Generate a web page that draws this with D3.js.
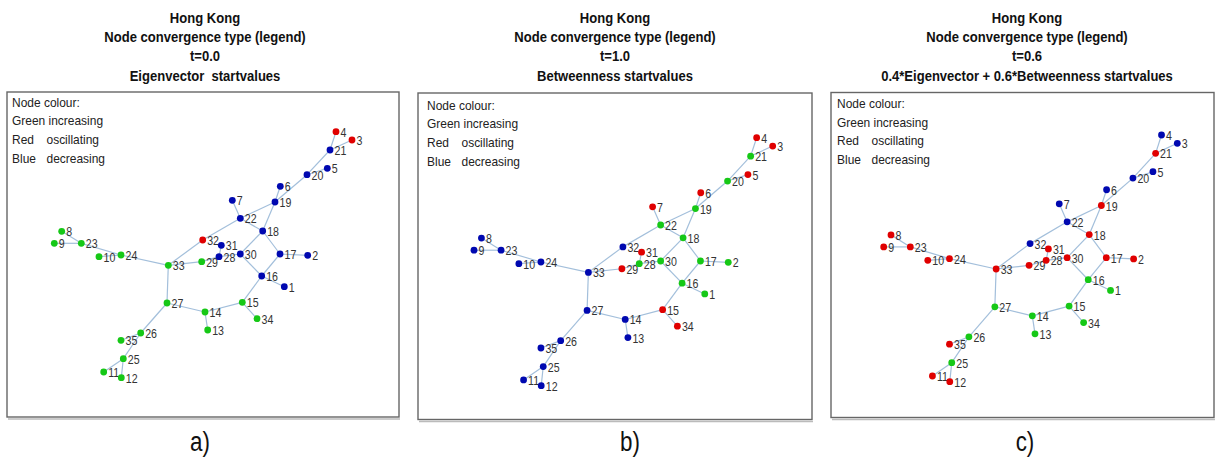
<!DOCTYPE html>
<html>
<head>
<meta charset="utf-8">
<script src="https://cdn.jsdelivr.net/npm/d3@7"></script>
<style>
  html, body { margin: 0; padding: 0; background: #fff; }
  svg { display: block; }
  text { font-family: "Liberation Sans", Arial, sans-serif; white-space: pre; }
</style>
</head>
<body>
<svg id="chart" width="1218" height="463"></svg>
<script>
// Node ids and their layout coordinates (same layout in every panel)
const nodeIds = [1,2,3,4,5,6,7,8,9,10,11,12,13,14,15,16,17,18,19,20,21,22,23,24,25,26,27,28,29,30,31,32,33,34,35];
const layoutX = [284.3,307.7,352,336,327.3,280.3,232.3,61.7,54.3,99,103.7,121.3,207.7,205,242.3,261.7,280,262.7,275,307,330,240.3,81.3,121,123.3,140.7,167,219,201.7,240.3,221.3,202.7,168.3,257,121];
const layoutY = [286.7,255.3,140,131.7,168.3,186.3,200.3,231.3,243.3,256.7,372,377.7,330,312,302.3,276,254,231,202,174.7,150,218.3,243.3,255,358.7,333,303,256.7,261.7,254,245.3,240,265.3,318.7,340.3];

// Network links (pairs of node ids)
const links = [[4,21],[3,21],[21,20],[5,20],[20,19],[6,19],[19,22],[19,18],[7,22],[22,18],[22,32],[32,33],
  [31,28],[28,30],[29,28],[33,29],[30,18],[30,16],[18,17],[17,2],[17,16],[16,1],[16,15],[15,34],[15,14],
  [14,13],[14,27],[27,33],[27,26],[26,25],[35,26],[25,11],[25,12],[8,23],[9,23],[23,24],[10,24],[24,33]];

// Convergence type per node: G increasing, R oscillating, B decreasing
const typesA = ["B","B","R","R","B","B","B","G","G","G","G","G","G","G","G","B","B","B","B","B","B","B","G","G","G","G","G","B","G","B","B","R","G","G","G"];
const typesB = ["G","G","R","R","R","R","R","B","B","B","B","B","B","B","R","G","G","G","G","G","G","G","B","B","B","B","B","G","R","G","R","B","B","R","B"];
const typesC = ["G","R","B","B","B","B","B","R","R","R","R","R","G","G","G","G","R","R","R","B","R","B","R","R","G","G","G","R","R","R","R","B","R","G","R"];

const titleCommon = ["Hong Kong", "Node convergence type (legend)"];
const timeLabels = ["t=0.0", "t=1.0", "t=0.6"];
const startLabels = ["Eigenvector  startvalues", "Betweenness startvalues", "0.4*Eigenvector + 0.6*Betweenness startvalues"];
const panelTags = ["a)", "b)", "c)"];
const legendLines = [["Node colour:", ""], ["Green increasing", ""], ["Red", "oscillating"], ["Blue", "decreasing"]];

const typeColor = { G: "#16c816", R: "#e00000", B: "#0008b0" };

const panels = [
  { types: typesA, box: [7, 92, 399, 417], xr: [54.3, 352], yr: [131.7, 377.7], cx: 205, tag: 200, leg: [12, 102] },
  { types: typesB, box: [418, 93, 812, 419.5], xr: [474, 772.7], yr: [137.7, 385.7], cx: 615, tag: 630, leg: [427, 105] },
  { types: typesC, box: [831, 92.5, 1214, 417.5], xr: [883.7, 1177.3], yr: [135, 381.7], cx: 1027, tag: 1025, leg: [837, 103.5] }
];

const svg = d3.select("#chart");
const xDom = [d3.min(layoutX), d3.max(layoutX)];
const yDom = [d3.min(layoutY), d3.max(layoutY)];
const idx = new Map(nodeIds.map((id, i) => [id, i]));

// text drawn with a horizontal squeeze (narrow face look)
function narrowText(g, x, y, str, size, sx) {
  return g.append("text")
    .attr("transform", `translate(${x},${y}) scale(${sx},1)`)
    .attr("font-size", size)
    .text(str);
}

panels.forEach((p, k) => {
  const g = svg.append("g");
  const x = d3.scaleLinear().domain(xDom).range(p.xr);
  const y = d3.scaleLinear().domain(yDom).range(p.yr);

  // titles
  const titles = [titleCommon[0], titleCommon[1], timeLabels[k], startLabels[k]];
  const ty = [22.5, 42, 61, 80.5];
  titles.forEach((t, i) => {
    narrowText(g, p.cx, ty[i], t, 15, 0.87)
      .attr("text-anchor", "middle").attr("font-weight", "bold").attr("fill", "#111");
  });

  // frame with a soft shadow
  const [x0, y0, x1, y1] = p.box;
  g.append("line").attr("x1", x0 + 1).attr("x2", x1 + 1).attr("y1", y1 + 2).attr("y2", y1 + 2)
    .attr("stroke", "#bbb").attr("stroke-width", 1.5);
  g.append("rect").attr("x", x0).attr("y", y0).attr("width", x1 - x0).attr("height", y1 - y0)
    .attr("fill", "none").attr("stroke", "#666").attr("stroke-width", 1.4);

  // legend
  legendLines.forEach((ln, i) => {
    const yy = p.leg[1] + i * 18.7 + 4.5;
    narrowText(g, p.leg[0], yy, ln[0], 13, 0.92).attr("fill", "#222");
    if (ln[1]) narrowText(g, p.leg[0] + 34.5, yy, ln[1], 13, 0.92).attr("fill", "#222");
  });

  // links
  g.selectAll("line.link").data(links).join("line")
    .attr("class", "link")
    .attr("x1", d => x(layoutX[idx.get(d[0])])).attr("y1", d => y(layoutY[idx.get(d[0])]))
    .attr("x2", d => x(layoutX[idx.get(d[1])])).attr("y2", d => y(layoutY[idx.get(d[1])]))
    .attr("stroke", "#a3bfdb").attr("stroke-width", 1.2);

  // node labels
  nodeIds.forEach((id, i) => {
    narrowText(g, x(layoutX[i]) + 4.5, y(layoutY[i]) + 5, id, 12.5, 0.85).attr("fill", "#333");
  });

  // nodes
  g.selectAll("circle.node").data(nodeIds).join("circle")
    .attr("class", "node")
    .attr("cx", (d, i) => x(layoutX[i])).attr("cy", (d, i) => y(layoutY[i]))
    .attr("r", 3.4)
    .attr("fill", (d, i) => typeColor[p.types[i]]);

  // panel tag
  narrowText(g, p.tag, 451, panelTags[k], 28, 0.8)
    .attr("text-anchor", "middle")
    .attr("font-family", "'Liberation Serif', 'Times New Roman', serif")
    .attr("fill", "#111");
});
</script>
</body>
</html>
